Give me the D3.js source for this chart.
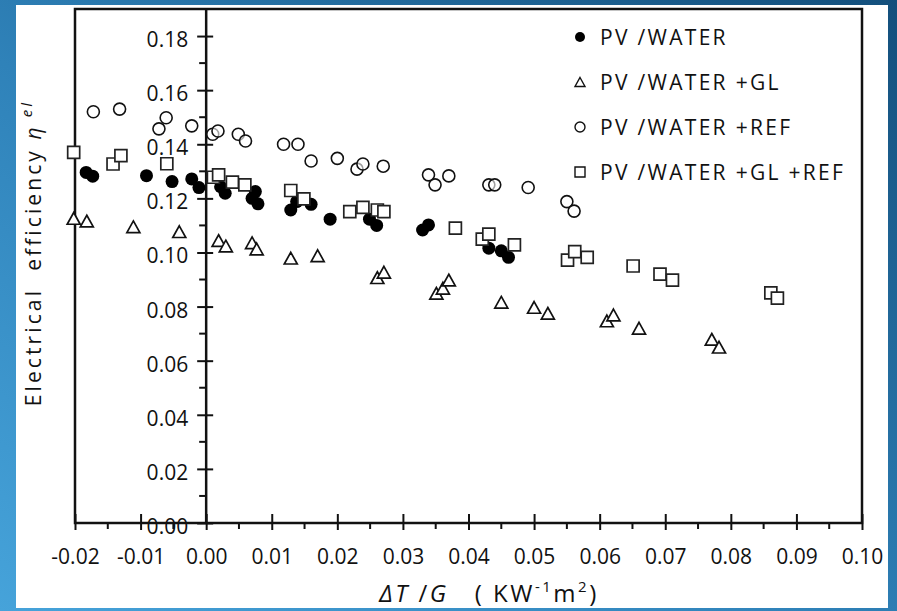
<!DOCTYPE html>
<html>
<head>
<meta charset="utf-8">
<script src="https://cdn.jsdelivr.net/npm/d3@7"></script>
<style>
  html, body { margin: 0; padding: 0; }
  body { width: 897px; height: 611px; overflow: hidden; }
  text { font-family: "Open Sans", sans-serif; fill: #111; }
</style>
</head>
<body>
<svg id="chart" width="897" height="611"></svg>
<script>
// values: [dT/G, efficiency]
var pvWater = [[-0.0183,0.1296],[-0.0173,0.1282],[-0.0091,0.1284],[-0.0052,0.1262],[-0.0022,0.1272],[-0.0011,0.124],
  [0.0022,0.1243],[0.0029,0.1219],[0.0075,0.1225],[0.007,0.120],[0.0079,0.118],[0.0129,0.1157],[0.0138,0.1188],
  [0.016,0.1178],[0.0189,0.1123],[0.0249,0.1123],[0.026,0.110],[0.033,0.1083],[0.0339,0.1102],[0.0431,0.1016],
  [0.045,0.1006],[0.0461,0.0982]];
var pvWaterGl = [[-0.0202,0.1126],[-0.0182,0.1116],[-0.0111,0.1095],[-0.0041,0.1077],[0.0019,0.1044],[0.003,0.1024],
  [0.007,0.1036],[0.0077,0.1013],[0.0129,0.0979],[0.017,0.0988],[0.0261,0.0907],[0.0271,0.0927],[0.0351,0.0849],
  [0.0361,0.0868],[0.037,0.0898],[0.045,0.0816],[0.05,0.0797],[0.0521,0.0775],[0.0611,0.0747],[0.0621,0.0769],
  [0.066,0.072],[0.0771,0.0679],[0.0782,0.065]];
var pvWaterRef = [[-0.0172,0.152],[-0.0132,0.153],[-0.0072,0.1457],[-0.0061,0.1498],[-0.0022,0.1468],[0.001,0.1437],
  [0.0018,0.1449],[0.0049,0.1437],[0.006,0.1412],[0.0118,0.140],[0.014,0.140],[0.016,0.1338],[0.020,0.1348],
  [0.023,0.1308],[0.0239,0.1327],[0.027,0.1319],[0.0339,0.1287],[0.0349,0.125],[0.037,0.1283],[0.0431,0.125],
  [0.044,0.125],[0.0491,0.124],[0.055,0.1188],[0.0561,0.1153]];
var pvWaterGlRef = [[-0.0202,0.137],[-0.0142,0.1327],[-0.013,0.1358],[-0.006,0.1328],[0.0011,0.1278],[0.0019,0.1287],
  [0.004,0.126],[0.0059,0.125],[0.0129,0.1229],[0.0149,0.1198],[0.0219,0.1151],[0.0239,0.1167],[0.0261,0.1157],
  [0.0271,0.1151],[0.038,0.109],[0.0421,0.1049],[0.0431,0.1068],[0.047,0.1028],[0.0551,0.0972],[0.0562,0.1003],
  [0.0581,0.0982],[0.0651,0.095],[0.0692,0.092],[0.0711,0.0898],[0.0861,0.0851],[0.0871,0.0831]];

var xTicks = [-0.02,-0.01,0,0.01,0.02,0.03,0.04,0.05,0.06,0.07,0.08,0.09,0.10];
var yTicks = [0,0.02,0.04,0.06,0.08,0.10,0.12,0.14,0.16,0.18];
var legendLabels = ["PV /WATER", "PV /WATER +GL", "PV /WATER +REF", "PV /WATER +GL +REF"];

var svg = d3.select("#chart");

// blue frame round the white panel
var defs = svg.append("defs");
var grad = defs.append("linearGradient").attr("id", "bg")
    .attr("x1", "0").attr("y1", "1").attr("x2", "1").attr("y2", "0");
grad.append("stop").attr("offset", "0%").attr("stop-color", "#46a3da");
grad.append("stop").attr("offset", "45%").attr("stop-color", "#2f82b9");
grad.append("stop").attr("offset", "100%").attr("stop-color", "#134f7c");
svg.append("rect").attr("width", 897).attr("height", 611).attr("fill", "url(#bg)");
svg.append("rect").attr("x", 16).attr("y", 5).attr("width", 872).attr("height", 603).attr("fill", "#fff");

var x = d3.scaleLinear().domain([-0.02, 0.10]).range([75, 862]);
var y = d3.scaleLinear().domain([0, 0.19]).range([523, 9]);

// plot box
svg.append("rect")
    .attr("x", x(-0.02)).attr("y", y(0.19))
    .attr("width", x(0.10) - x(-0.02)).attr("height", y(0) - y(0.19))
    .attr("fill", "none").attr("stroke", "#111").attr("stroke-width", 2.5);

// x axis along the bottom
var xAxis = svg.append("g").attr("transform", "translate(0," + y(0) + ")")
    .call(d3.axisBottom(x).tickValues(xTicks).tickSize(7).tickPadding(19));
xAxis.select(".domain").remove();
xAxis.selectAll(".tick line").attr("y1", -9).attr("y2", 7).attr("stroke", "#111").attr("stroke-width", 2);
xAxis.selectAll(".tick text").attr("font-size", 21).attr("font-family", "Open Sans")
    .text(d => d3.format(".2f")(d).replace("−", "-"));
svg.append("g").selectAll("line")
    .data(d3.range(-0.015, 0.1, 0.01)).enter().append("line")
    .attr("x1", d => x(d)).attr("x2", d => x(d))
    .attr("y1", y(0)).attr("y2", y(0) + 6)
    .attr("stroke", "#111").attr("stroke-width", 2);

// y axis sits on dT/G = 0
var yAxis = svg.append("g").attr("transform", "translate(" + x(0) + ",0)")
    .call(d3.axisLeft(y).tickValues(yTicks).tickFormat(d3.format(".2f")).tickSize(9).tickPadding(9));
yAxis.select(".domain").remove();
yAxis.selectAll(".tick line").attr("x1", 7).attr("x2", -9).attr("stroke", "#111").attr("stroke-width", 2);
yAxis.selectAll(".tick text").attr("font-size", 21).attr("font-family", "Open Sans").attr("dy", "0.5em");
svg.append("line")
    .attr("x1", x(0)).attr("x2", x(0)).attr("y1", y(0.19)).attr("y2", y(0))
    .attr("stroke", "#111").attr("stroke-width", 2.5);
svg.append("g").selectAll("line")
    .data(d3.range(0.01, 0.18, 0.02)).enter().append("line")
    .attr("x1", x(0) - 7).attr("x2", x(0))
    .attr("y1", d => y(d)).attr("y2", d => y(d))
    .attr("stroke", "#111").attr("stroke-width", 2);

// marker shapes
function tri(s) {
    var h = s * 0.9;
    return "M0," + (-h / 2) + "L" + (s / 2) + "," + (h / 2) + "L" + (-s / 2) + "," + (h / 2) + "Z";
}
function sq(s) {
    return "M" + (-s / 2) + "," + (-s / 2) + "h" + s + "v" + s + "h" + (-s) + "Z";
}

var marks = svg.append("g");
marks.selectAll(".gl").data(pvWaterGl).enter().append("path")
    .attr("transform", d => "translate(" + x(d[0]) + "," + y(d[1]) + ")")
    .attr("d", tri(13)).attr("fill", "#fff").attr("stroke", "#111").attr("stroke-width", 1.7);
marks.selectAll(".ref").data(pvWaterRef).enter().append("circle")
    .attr("cx", d => x(d[0])).attr("cy", d => y(d[1])).attr("r", 6)
    .attr("fill", "#fff").attr("fill-opacity", 0.6).attr("stroke", "#111").attr("stroke-width", 1.6);
marks.selectAll(".pw").data(pvWater).enter().append("circle")
    .attr("cx", d => x(d[0])).attr("cy", d => y(d[1])).attr("r", 6.5)
    .attr("fill", "#000");
marks.selectAll(".glref").data(pvWaterGlRef).enter().append("path")
    .attr("transform", d => "translate(" + x(d[0]) + "," + y(d[1]) + ")")
    .attr("d", sq(12)).attr("fill", "#fff").attr("stroke", "#222").attr("stroke-width", 1.7);

// legend
var legend = svg.append("g").selectAll("g").data(legendLabels).enter().append("g")
    .attr("transform", (d, i) => "translate(580," + (37 + i * 45) + ")");
legend.each(function(d, i) {
    var g = d3.select(this);
    if (i == 0) g.append("circle").attr("r", 5).attr("fill", "#000");
    if (i == 1) g.append("path").attr("d", tri(10)).attr("fill", "none").attr("stroke", "#111").attr("stroke-width", 1.4);
    if (i == 2) g.append("circle").attr("r", 5).attr("fill", "none").attr("stroke", "#111").attr("stroke-width", 1.4);
    if (i == 3) g.append("path").attr("d", sq(10)).attr("fill", "none").attr("stroke", "#111").attr("stroke-width", 1.4);
    g.append("text").attr("x", 20).attr("y", 8).attr("font-size", 21)
        .style("letter-spacing", "2.3px").text(d);
});

// axis titles
var xt = svg.append("text").attr("x", 489).attr("y", 602).attr("text-anchor", "middle")
    .attr("font-size", 24).style("letter-spacing", "2.5px").attr("xml:space", "preserve");
xt.append("tspan").attr("font-style", "italic").text("ΔT ");
xt.append("tspan").text("/");
xt.append("tspan").attr("font-style", "italic").text("G");
xt.append("tspan").text("   ( KW");
xt.append("tspan").attr("font-size", 15).attr("dy", -10).text("-1");
xt.append("tspan").attr("dy", 10).text("m");
xt.append("tspan").attr("font-size", 15).attr("dy", -10).text("2");
xt.append("tspan").attr("dy", 10).text(")");

var yt = svg.append("text").attr("transform", "translate(41,253) rotate(-90)")
    .attr("text-anchor", "middle").attr("font-size", 21).style("letter-spacing", "3.1px")
    .attr("xml:space", "preserve");
yt.append("tspan").text("Electrical  efficiency ");
yt.append("tspan").attr("font-style", "italic").text("η");
yt.append("tspan").attr("font-style", "italic").attr("font-size", 15).attr("dy", -9).text(" el");
</script>
</body>
</html>
